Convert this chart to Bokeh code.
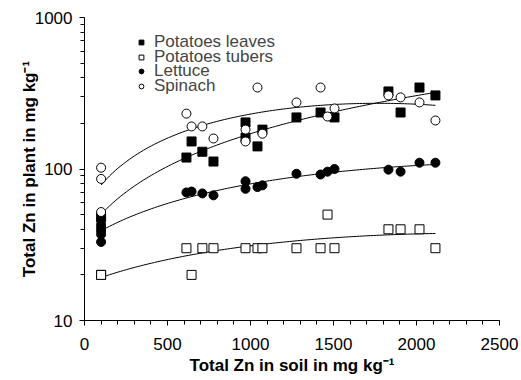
import numpy as np
from bokeh.plotting import figure
from bokeh.models import Legend, FixedTicker, SingleIntervalTicker, NumeralTickFormatter
from bokeh.embed import file_html
from bokeh.resources import INLINE

# ---- data ----
leaves_x = [100, 614, 645, 710, 777, 970, 970, 1042, 1072, 1277, 1422, 1506, 1831, 1904, 2018, 2114]
leaves_y = [48, 119, 152, 130, 112, 203, 161, 141, 182, 219, 236, 219, 325, 236, 345, 306]

tubers_x = [100, 100, 614, 645, 710, 777, 970, 1042, 1072, 1277, 1422, 1464, 1506, 1831, 1904, 2018, 2114]
tubers_y = [20, 20, 30, 20, 30, 30, 30, 30, 30, 30, 30, 50, 30, 40, 40, 40, 30]

lettuce_x = [100, 100, 100, 100, 100, 614, 645, 710, 777, 970, 970, 1042, 1072, 1277, 1422, 1464, 1506, 1831, 1904, 2018, 2114]
lettuce_y = [43, 41, 39, 37, 33, 70, 71, 69, 67, 83, 74, 76, 78, 93, 92, 96, 100, 99, 96, 110, 110]

spinach_x = [100, 100, 100, 614, 645, 710, 777, 970, 970, 1042, 1072, 1277, 1422, 1464, 1506, 1831, 1904, 2018, 2114]
spinach_y = [102, 86, 52, 232, 191, 191, 159, 182, 152, 345, 171, 275, 345, 222, 251, 306, 297, 275, 209]

series_labels = ["Potatoes leaves", "Potatoes tubers", "Lettuce", "Spinach"]

y_major = [10, 100, 1000]
y_minor = [20, 30, 40, 50, 60, 70, 80, 90, 200, 300, 400, 500, 600, 700, 800, 900]

FONT = "Liberation Sans"

p = figure(frame_width=415, frame_height=303, x_range=(0, 2500), y_range=(10, 1000),
           y_axis_type="log", output_backend="svg", toolbar_location=None,
           min_border_left=84, min_border_top=17, min_border_right=21, min_border_bottom=51)
p.outline_line_color = None
p.grid.visible = False
p.background_fill_color = "white"
p.border_fill_color = "white"

# trend lines (least-squares fits of each series)
for xs, ys, deg in [(leaves_x, leaves_y, 1), (tubers_x, tubers_y, 2),
                    (lettuce_x, lettuce_y, 2), (spinach_x, spinach_y, 2)]:
    c = np.polyfit(xs, ys, deg)
    xx = np.linspace(min(xs), max(xs), 120)
    p.line(xx, np.polyval(c, xx), line_color="black", line_width=1)

r1 = p.scatter(leaves_x, leaves_y, marker="square", size=9, fill_color="black", line_color="black")
r2 = p.scatter(tubers_x, tubers_y, marker="square", size=9, fill_color="white", line_color="black", line_width=1)
r3 = p.scatter(lettuce_x, lettuce_y, marker="circle", size=9, fill_color="black", line_color="black")
r4 = p.scatter(spinach_x, spinach_y, marker="circle", size=9, fill_color="white", line_color="black", line_width=1)

# one single-item legend per row so the rows can sit as tightly as in the reference
row_bottoms = [267, 252, 238, 223]
for lab, r, yb in zip(series_labels, [r1, r2, r3, r4], row_bottoms):
    lg = Legend(items=[(lab, [r])], location=(51, yb))
    lg.background_fill_alpha = 0
    lg.border_line_alpha = 0
    lg.label_text_font = FONT
    lg.label_text_font_size = "17px"
    lg.label_height = 22
    lg.glyph_height = 22
    lg.glyph_width = 12
    lg.label_standoff = 7
    lg.spacing = 0
    lg.padding = 0
    lg.margin = 0
    p.add_layout(lg)

# axes
xa = p.xaxis[0]
xa.ticker = SingleIntervalTicker(interval=500, num_minor_ticks=5)
xa.axis_label = "Total Zn in soil in mg kg\u207b\u00b9"
ya = p.yaxis[0]
ya.ticker = FixedTicker(ticks=y_major, minor_ticks=y_minor)
ya.formatter = NumeralTickFormatter(format="0")
ya.axis_label = "Total Zn in plant in mg kg\u207b\u00b9"

for ax in (xa, ya):
    ax.axis_line_color = "black"
    ax.major_tick_line_color = "black"
    ax.minor_tick_line_color = "black"
    ax.major_tick_in = 0
    ax.major_tick_out = 5
    ax.minor_tick_in = 0
    ax.minor_tick_out = 4
    ax.major_label_text_font = FONT
    ax.major_label_text_font_size = "17px"
    ax.major_label_text_color = "black"
    ax.axis_label_text_font = FONT
    ax.axis_label_text_font_size = "17px"
    ax.axis_label_text_font_style = "bold"
    ax.axis_label_text_color = "black"

xa.major_label_standoff = 12
xa.axis_label_standoff = 3
ya.major_label_standoff = 7
ya.axis_label_standoff = -7
ya.major_label_orientation = "horizontal"

open("out.html", "w").write(file_html(p, INLINE))
